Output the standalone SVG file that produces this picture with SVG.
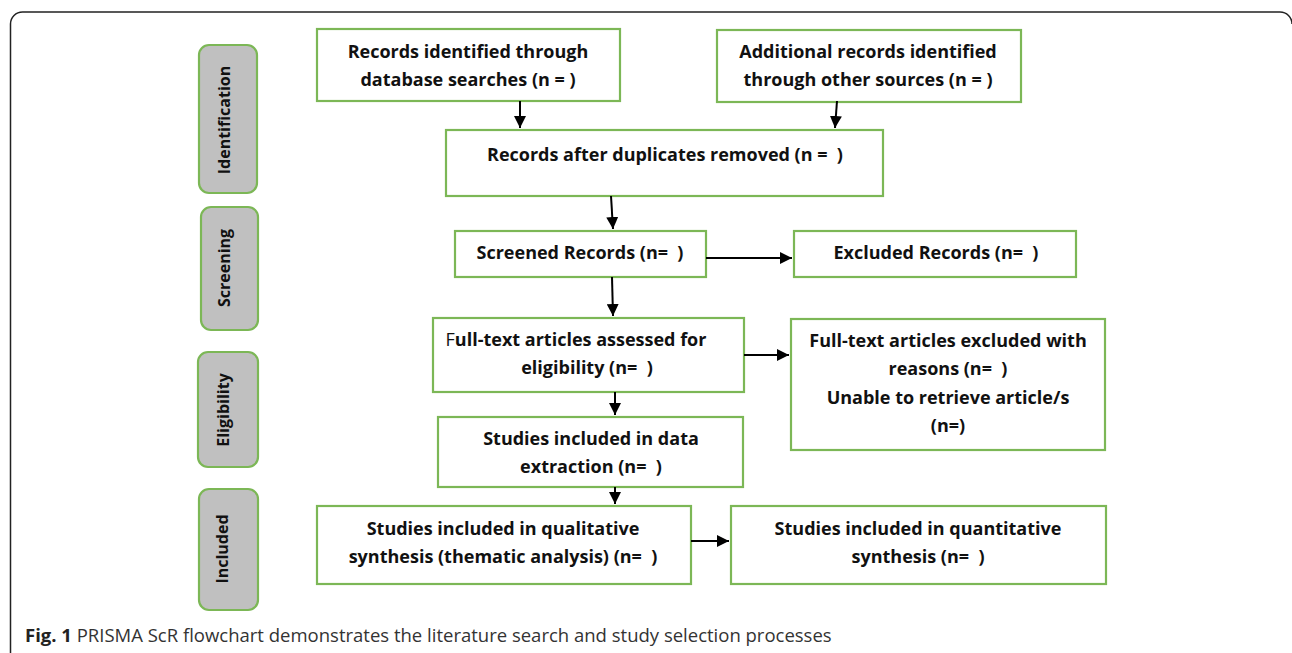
<svg xmlns="http://www.w3.org/2000/svg" width="1292" height="653" viewBox="0 0 1292 653">
<style>
.box{fill:#fff;stroke:#7cb756;stroke-width:2.2}
.phase{fill:#c0c0c0;stroke:#7cb756;stroke-width:2.2}
text{white-space:pre}
.t{font-family:"Open Sans","Noto Sans","Liberation Sans",sans-serif;font-weight:bold;font-size:18px;fill:#111;text-anchor:middle}
.pt{font-family:"Open Sans","Noto Sans","Liberation Sans",sans-serif;font-weight:bold;font-size:16px;fill:#111;text-anchor:middle}
.c{stroke:#000;stroke-width:2;fill:none;marker-end:url(#ah)}
.cap{font-family:"Open Sans","Liberation Sans",sans-serif;font-size:18.5px;fill:#333}
</style>
<defs>
<marker id="ah" viewBox="0 0 10 10" refX="10" refY="5" markerWidth="6" markerHeight="6" markerUnits="strokeWidth" orient="auto">
<path d="M0,0 L10,5 L0,10 Z" fill="#000"/>
</marker>
</defs>
<rect width="1292" height="653" fill="#fff"/>
<path d="M10.5,653 V24 A12,12 0 0 1 22.5,12 H1280 A12,12 0 0 1 1292,24" fill="none" stroke="#222" stroke-width="1.5"/>

<g id="phase-identification"><rect class="phase" x="199" y="45" width="58" height="148" rx="10"/><text class="pt" transform="translate(230,120) rotate(-90)">Identification</text></g>
<g id="phase-screening"><rect class="phase" x="201" y="207" width="57" height="123" rx="10"/><text class="pt" transform="translate(230,268) rotate(-90)">Screening</text></g>
<g id="phase-eligibility"><rect class="phase" x="198" y="352" width="60" height="115" rx="10"/><text class="pt" transform="translate(229,410) rotate(-90)">Eligibility</text></g>
<g id="phase-included"><rect class="phase" x="199" y="489" width="59" height="121" rx="10"/><text class="pt" transform="translate(228,549) rotate(-90)">Included</text></g>

<g id="n-db"><rect class="box" x="317" y="29" width="303" height="72"/><text class="t" x="468" y="58">Records identified through</text><text class="t" x="468" y="86">database searches (n = )</text></g>
<g id="n-other"><rect class="box" x="717" y="30" width="304" height="72"/><text class="t" x="868" y="58">Additional records identified</text><text class="t" x="868" y="86">through other sources (n = )</text></g>
<g id="n-dup"><rect class="box" x="446" y="130" width="437" height="66"/><text class="t" x="665" y="161">Records after duplicates removed (n =  )</text></g>
<g id="n-screened"><rect class="box" x="455" y="231" width="251" height="46"/><text class="t" x="580" y="259">Screened Records (n=  )</text></g>
<g id="n-excluded"><rect class="box" x="794" y="231" width="282" height="46"/><text class="t" x="936" y="259">Excluded Records (n=  )</text></g>
<g id="n-fulltext"><rect class="box" x="433" y="318" width="311" height="74"/><text class="t" x="576" y="346"><tspan font-weight="normal">F</tspan>ull-text articles assessed for</text><text class="t" x="587" y="374">eligibility (n=  )</text></g>
<g id="n-ftexcl"><rect class="box" x="791" y="319" width="314" height="131"/><text class="t" x="948" y="347">Full-text articles excluded with</text><text class="t" x="948" y="375">reasons (n=  )</text><text class="t" x="948" y="404">Unable to retrieve article/s</text><text class="t" x="948" y="432">(n=)</text></g>
<g id="n-extract"><rect class="box" x="438" y="417" width="305" height="70"/><text class="t" x="591" y="445">Studies included in data</text><text class="t" x="591" y="473">extraction (n=  )</text></g>
<g id="n-qual"><rect class="box" x="317" y="506" width="374" height="78"/><text class="t" x="503" y="535">Studies included in qualitative</text><text class="t" x="503" y="563">synthesis (thematic analysis) (n=  )</text></g>
<g id="n-quant"><rect class="box" x="731" y="506" width="375" height="78"/><text class="t" x="918" y="535">Studies included in quantitative</text><text class="t" x="918" y="563">synthesis (n=  )</text></g>

<g id="connectors">
<path class="c" d="M520,101 V128"/>
<path class="c" d="M837,101 L835,128"/>
<path class="c" d="M611,196 L613,229"/>
<path class="c" d="M612,277 L613,316"/>
<path class="c" d="M706,258 H792"/>
<path class="c" d="M744,355 H789"/>
<path class="c" d="M615,392 V415"/>
<path class="c" d="M615,487 V504"/>
<path class="c" d="M691,541 H729"/>
</g>

<text class="cap" x="25" y="642"><tspan font-weight="bold" fill="#222">Fig. 1</tspan> PRISMA ScR flowchart demonstrates the literature search and study selection processes</text>
</svg>
